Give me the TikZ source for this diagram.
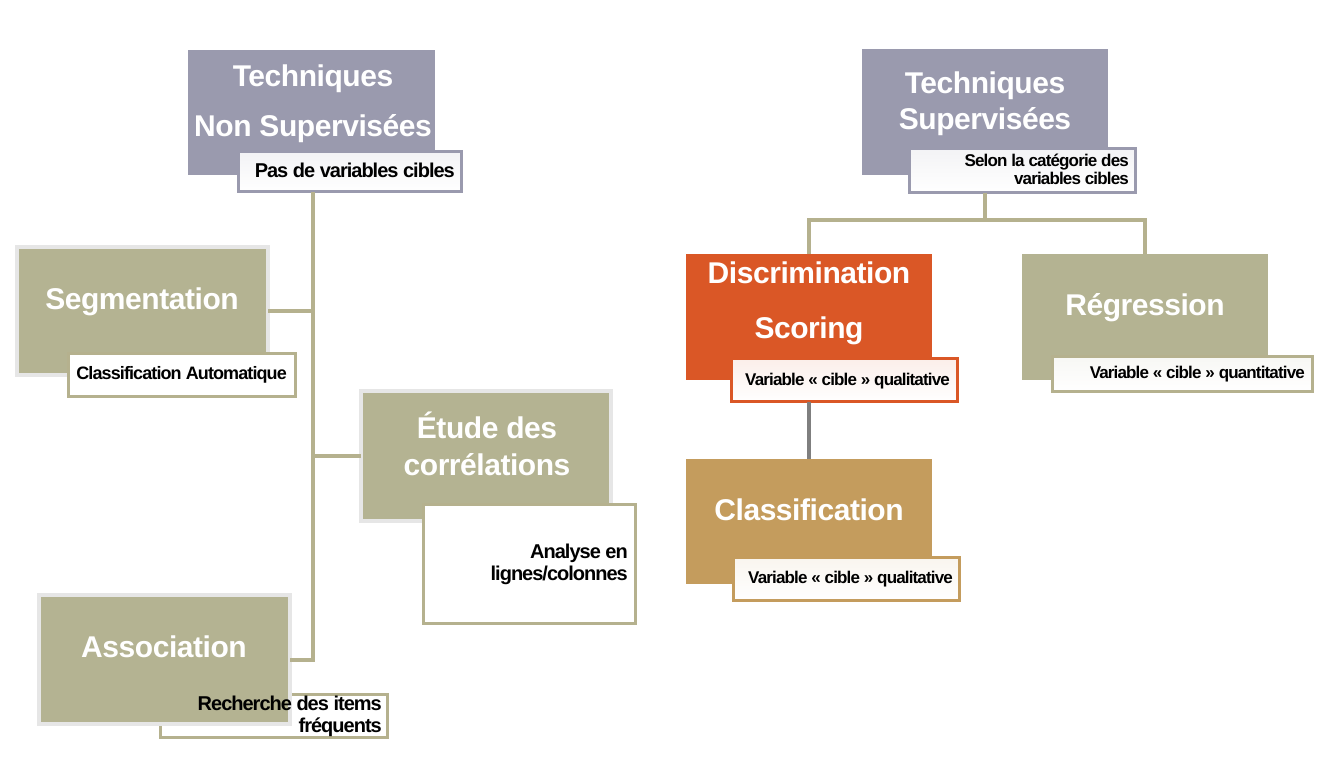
\documentclass[tikz,border=0pt]{standalone}
\usepackage{fontspec}
\setmainfont{Liberation Sans}
\newfontfamily\tfont{Liberation Sans}[LetterSpace=-1.5]
\newfontfamily\sfont{Liberation Sans}[LetterSpace=-5]
\definecolor{hdr}{HTML}{9A9AAE}
\definecolor{olive}{HTML}{B4B392}
\definecolor{oline}{HTML}{B5B18E}
\definecolor{orng}{HTML}{DA5726}
\definecolor{tanc}{HTML}{C49C5D}
\definecolor{rim}{HTML}{E6E6E6}
\definecolor{conn}{HTML}{7F7F7F}
\tikzset{
  blk/.style={anchor=north west, inner sep=0pt, outer sep=0pt},
  hdrbox/.style={blk, fill=hdr},
  rimbox/.style={blk, fill=olive, draw=rim, line width=4pt},
  subbox/.style={blk, line width=3pt},
  ttl/.style={text=white, font=\tfont\bfseries\fontsize{30}{34}\selectfont, inner sep=0pt, text height=21.5pt, text depth=0pt},
  lblL/.style={anchor=base east, text=black, font=\sfont\bfseries\fontsize{20}{22}\selectfont, inner sep=0pt},
  lblR/.style={anchor=base east, text=black, font=\sfont\bfseries\fontsize{17}{18}\selectfont, inner sep=0pt},
  link/.style={draw=oline, line width=4pt},
  glink/.style={draw=conn, line width=4pt},
}
\begin{document}
\begin{tikzpicture}[x=1pt,y=-1pt]
\useasboundingbox (0,0) rectangle (1335,766);

% ---------- left tree ----------
\node[hdrbox, minimum width=247pt, minimum height=125pt] (hdrL) at (188,50) {};
\node[subbox, draw=hdr, top color=hdr!12, bottom color=white, minimum width=223pt, minimum height=40pt] (subL) at (238.5,151.5) {};

\node[rimbox, minimum width=251pt, minimum height=128pt] (seg) at (17,247) {};
\node[subbox, draw=oline, fill=white, minimum width=227pt, minimum height=43pt] (segsub) at (68.5,353.5) {};

\node[rimbox, minimum width=250pt, minimum height=130pt] (etude) at (361,391) {};
\node[subbox, draw=oline, fill=white, minimum width=212pt, minimum height=119pt] (etsub) at (423.5,504.5) {};

\node[subbox, draw=oline, fill=white, minimum width=227pt, minimum height=43pt] (assub) at (160.5,694.5) {};
\node[rimbox, minimum width=251pt, minimum height=129pt] (assoc) at (39,595) {};

\coordinate (trunk) at (313,660);
\draw[link] (subL.south -| trunk) |- (assoc.east);
\draw[link] (seg.east) -- (seg.east -| trunk);
\draw[link] (etude.west) -- (etude.west -| trunk);

\node[ttl] (tA) at (313,76) {Techniques};
\node[ttl] (tB) at (313,126) {Non Supervisées};
\node[lblL] (lA) at (455,177) {Pas de variables cibles};
\node[ttl] (tSeg) at (142,298.5) {Segmentation};
\node[lblR, font=\sfont\bfseries\fontsize{18}{20}\selectfont] (lSeg) at (287,379) {Classification Automatique};
\node[ttl] (tEt1) at (487,428) {Étude des};
\node[ttl] (tEt2) at (487,465) {corrélations};
\node[lblL] (lEt1) at (628,558) {Analyse en};
\node[lblL] (lEt2) at (628,580) {lignes/colonnes};
\node[ttl] (tAs) at (164,646.5) {Association};
\node[lblL] (lAs1) at (382,710) {Recherche des items};
\node[lblL] (lAs2) at (382,732) {fréquents};

% ---------- right tree ----------
\node[hdrbox, minimum width=246pt, minimum height=126pt] (hdrR) at (862,49) {};
\node[subbox, draw=hdr, top color=hdr!12, bottom color=white, minimum width=226pt, minimum height=44pt] (subR) at (909.5,148.5) {};

\node[blk, fill=orng, minimum width=246pt, minimum height=126pt] (disc) at (686,254) {};
\node[subbox, draw=orng, top color=orng!10, bottom color=white, minimum width=226pt, minimum height=43pt] (dsub) at (731.5,358.5) {};

\node[blk, fill=tanc, minimum width=246pt, minimum height=125pt] (cls) at (686,459) {};
\node[subbox, draw=tanc, top color=tanc!10, bottom color=white, minimum width=226pt, minimum height=43pt] (csub) at (733.5,557.5) {};

\node[blk, fill=olive, minimum width=246pt, minimum height=126pt] (reg) at (1022,254) {};
\node[subbox, draw=oline, top color=olive!10, bottom color=white, minimum width=260pt, minimum height=35pt] (rsub) at (1052.5,356.5) {};

\coordinate (rj) at (985,220);
\draw[link] (subR.south -| rj) -- (rj);
\draw[link] (disc.north) |- (rj) -| (reg.north);
\draw[glink] (disc.center |- dsub.south) -- (cls.north);

\node[ttl] (tC) at (985,82.5) {Techniques};
\node[ttl] (tD) at (985,119) {Supervisées};
\node[lblR] (lR1) at (1129,166) {Selon la catégorie des};
\node[lblR] (lR2) at (1129,184) {variables cibles};
\node[ttl] (tDi1) at (809,273) {Discrimination};
\node[ttl] (tDi2) at (809,327.5) {Scoring};
\node[lblR] (lDi) at (950,385) {Variable «~cible~» qualitative};
\node[ttl] (tCl) at (809,510) {Classification};
\node[lblR] (lCl) at (953,583) {Variable «~cible~» qualitative};
\node[ttl] (tRe) at (1145,305) {Régression};
\node[lblR] (lRe) at (1305,378) {Variable «~cible~» quantitative};
\end{tikzpicture}
\end{document}
